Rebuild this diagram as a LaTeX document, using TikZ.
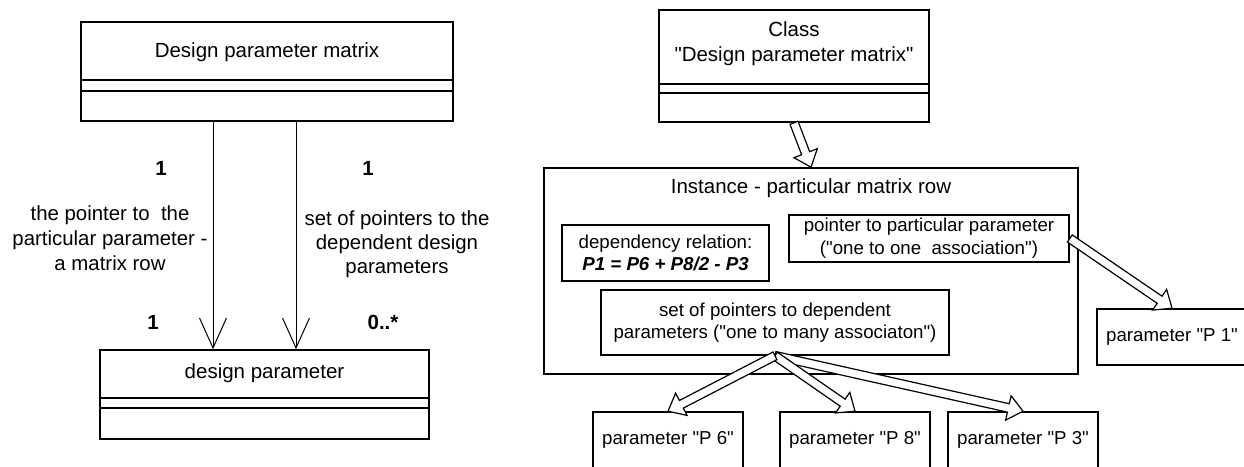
\documentclass[tikz,border=0pt]{standalone}
\usepackage{fontspec}
\setmainfont{Liberation Sans}[Ligatures=TeXOff]
\usetikzlibrary{calc,arrows.meta}

% hollow block arrow from #1 (tail) to #2 (tip)
\newcommand\blockarrow[2]{%
  \path (#1) coordinate (ba-t) (#2) coordinate (ba-h);
  \path ($(ba-h)!15pt!(ba-t)$) coordinate (ba-b);
  \draw[blockarr]
    ($(ba-t)!4.3pt!90:(ba-h)$) -- ($(ba-b)!4.3pt!-90:(ba-t)$)
    -- ($(ba-b)!12.5pt!-90:(ba-t)$) -- (ba-h)
    -- ($(ba-b)!12.5pt!90:(ba-t)$) -- ($(ba-b)!4.3pt!90:(ba-t)$)
    -- ($(ba-t)!4.3pt!-90:(ba-h)$) -- cycle;
}

\begin{document}
\begin{tikzpicture}[x=1pt,y=-1pt,
  umlbox/.style={draw, line width=1.6pt, inner sep=0pt, fill=white},
  rule/.style={line width=1.6pt},
  nametext/.style={inner sep=0pt, align=center, font=\fontsize{20.5}{25}\selectfont},
  inbox/.style={umlbox, align=center, font=\fontsize{18.7}{22}\selectfont},
  lbltext/.style={inner sep=0pt, align=center, font=\fontsize{20.4}{25}\selectfont},
  multext/.style={inner sep=0pt, font=\fontsize{20.5}{25}\selectfont\bfseries},
  assoc/.style={line width=1pt, -{Straight Barb[length=30pt,width=27pt,line width=1pt]}},
  blockarr/.style={draw, fill=white, line width=1.2pt, line join=miter},
]
\useasboundingbox (0,0) rectangle (1244,466);
\clip (0,0) rectangle (1244,466);
\fill[white] (0,0) rectangle (1244,466);

% ---------- class diagram ----------
\node[umlbox, minimum width=372pt, minimum height=99pt] (dpm) at (267,71.5) {};
\node[nametext] (dpmname) at (267,52) {Design parameter matrix};
\draw[rule] ([yshift=-59pt]dpm.north west) -- ([yshift=-59pt]dpm.north east);
\draw[rule] ([yshift=-70pt]dpm.north west) -- ([yshift=-70pt]dpm.north east);

\node[umlbox, minimum width=329pt, minimum height=89pt] (dp) at (264.5,394.5) {};
\node[nametext] (dpname) at (264.5,373) {design parameter};
\draw[rule] ([yshift=-49pt]dp.north west) -- ([yshift=-49pt]dp.north east);
\draw[rule] ([yshift=-59pt]dp.north west) -- ([yshift=-59pt]dp.north east);

\draw[assoc] ([xshift=-54pt]dpm.south) -- ([xshift=-51.5pt]dp.north);
\draw[assoc] ([xshift=29pt]dpm.south) -- ([xshift=31.5pt]dp.north);

\node[multext] (m1) at (161,168) {1};
\node[multext] (m2) at (368,168) {1};
\node[multext] (m3) at (153,322) {1};
\node[multext] (m4) at (383,322) {0..*};

\node[lbltext] (rowlbl) at (110,238)
  {the pointer to\ \ the\\particular parameter -\\a matrix row};
\node[lbltext, font=\fontsize{20.4}{24}\selectfont] (setlbl) at (397,244)
  {set of pointers to the\\dependent design\\parameters};

% ---------- instance diagram ----------
\node[umlbox, minimum width=270pt, minimum height=112pt] (cls) at (794,66) {};
\node[nametext] (clsname) at (794,43.5) {Class\\"Design parameter matrix"};
\draw[rule] ([yshift=-75pt]cls.north west) -- ([yshift=-75pt]cls.north east);
\draw[rule] ([yshift=-84pt]cls.north west) -- ([yshift=-84pt]cls.north east);

\node[umlbox, minimum width=534pt, minimum height=206pt] (inst) at (811,271) {};
\node[nametext] (instname) at (811,188) {Instance - particular matrix row};

\node[inbox, minimum width=207pt, minimum height=56pt] (dep) at (665.5,253)
  {dependency relation:\\\textbf{\textit{P1 = P6 + P8/2 - P3}}};
\node[inbox, minimum width=280pt, minimum height=47pt,
  font=\fontsize{18.7}{23}\selectfont] (ptr) at (929,238.5)
  {pointer to particular parameter\\("one to one\ \ association")};
\node[inbox, minimum width=348pt, minimum height=65pt] (set) at (775,322.5)
  {set of pointers to dependent\\parameters ("one to many associaton")};

\node[inbox, minimum width=150pt, minimum height=56pt] (p1) at (1172,337) {parameter "P 1"};
\node[inbox, minimum width=150pt, minimum height=56pt] (p6) at (668,440) {parameter "P 6"};
\node[inbox, minimum width=150pt, minimum height=56pt] (p8) at (855,440) {parameter "P 8"};
\node[inbox, minimum width=150pt, minimum height=56pt] (p3) at (1023,440) {parameter "P 3"};

\blockarrow{cls.south}{inst.north}
\blockarrow{ptr.east}{p1.north}
\blockarrow{set.south}{p3.north}
\blockarrow{set.south}{p8.north}
\blockarrow{set.south}{p6.north}
\end{tikzpicture}
\end{document}
